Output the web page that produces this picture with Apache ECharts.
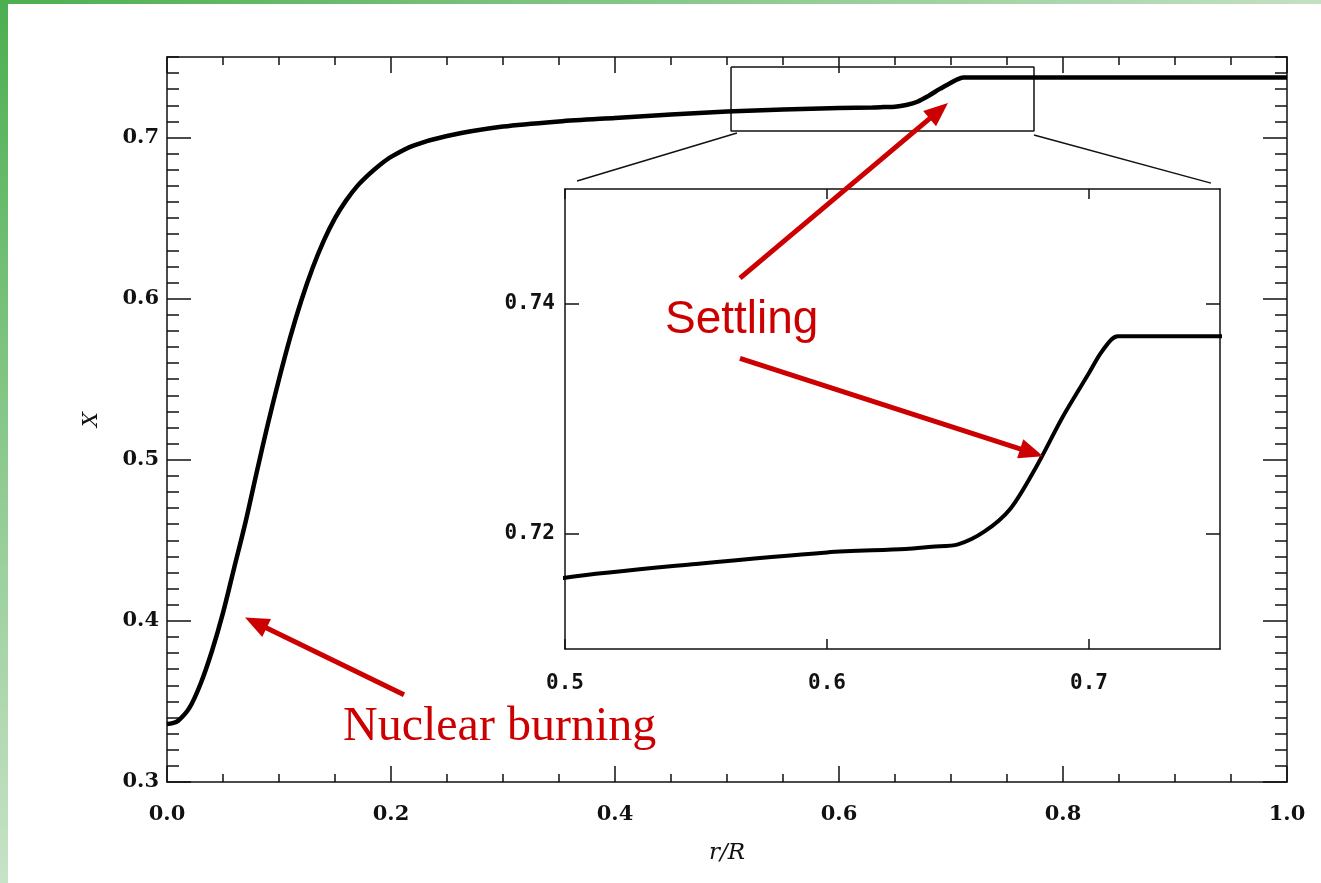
<!DOCTYPE html>
<html>
<head>
<meta charset="utf-8">
<script src="https://cdn.jsdelivr.net/npm/echarts@6/dist/echarts.min.js"></script>
<style>
  html, body { margin: 0; padding: 0; background: #fff; }
  #chart { width: 1321px; height: 883px; }
</style>
</head>
<body>
<div id="chart"></div>
<script>
// hydrogen abundance X against fractional radius r/R
const radius = [0, 0.005, 0.01, 0.02, 0.03, 0.04, 0.05, 0.06, 0.07, 0.08, 0.09, 0.10, 0.11, 0.12, 0.13, 0.14, 0.15, 0.16, 0.17, 0.18, 0.19, 0.20, 0.22, 0.25, 0.30, 0.35, 0.40, 0.45, 0.50, 0.55, 0.60, 0.63, 0.64, 0.65, 0.66, 0.67, 0.68, 0.69, 0.70, 0.705, 0.711, 0.75, 0.80, 0.90, 1.00]
const hydrogen = [0.336, 0.3365, 0.338, 0.346, 0.361, 0.381, 0.405, 0.433, 0.461, 0.492, 0.522, 0.550, 0.576, 0.599, 0.619, 0.636, 0.650, 0.661, 0.670, 0.677, 0.683, 0.688, 0.695, 0.701, 0.7068, 0.7100, 0.7122, 0.7143, 0.7162, 0.7174, 0.7184, 0.7187, 0.7189, 0.7191, 0.7202, 0.7222, 0.7259, 0.7302, 0.7340, 0.7359, 0.7372, 0.7372, 0.7372, 0.7372, 0.7372]

const mainYLabels = [0.3, 0.4, 0.5, 0.6, 0.7]
const insetXLabels = [0.5, 0.6, 0.7]
const insetYLabels = [0.72, 0.74]

// zoom box and its connector lines, in main-plot data units
const zoomBox = [[0.5036, 0.7438], [0.7741, 0.7438], [0.7741, 0.704], [0.5036, 0.704], [0.5036, 0.7438]]
const connectorLeft = [[0.5089, 0.7028], [0.3661, 0.673]]
const connectorRight = [[0.7741, 0.7016], [0.9321, 0.6717]]

// red annotation arrows [from, to], main-plot data units
const arrows = [
  [[0.5116, 0.6127], [0.6891, 0.7166]],
  [[0.5116, 0.563], [0.772, 0.5045]],
  [[0.2116, 0.3541], [0.0793, 0.3989]],
]

const curve = radius.map((r, i) => [r, hydrogen[i]])
const ink = '#111'
const labelFont = { fontFamily: 'DejaVu Serif', fontSize: 21, fontWeight: 'bold', color: '#111' }
const insetFont = { fontFamily: 'DejaVu Sans Mono', fontSize: 21, fontWeight: 'bold', color: '#111' }

const axisLine = { show: true, onZero: false, lineStyle: { color: ink, width: 1.5 } }
const noLine = { show: false, onZero: false }

function mainX(pos, showLabel) {
  return {
    type: 'value', gridIndex: 0, position: pos, min: 0, max: 1, interval: 0.2,
    axisLine, splitLine: { show: false },
    axisTick: { inside: true, length: 16, lineStyle: { color: ink, width: 1.5 } },
    minorTick: { show: true, splitNumber: 4, length: 8, lineStyle: { color: ink, width: 1.5 } },
    axisLabel: showLabel
      ? { ...labelFont, margin: 22, formatter: (v) => v.toFixed(1) }
      : { show: false },
    name: showLabel ? 'r/R' : '',
    nameLocation: 'middle', nameGap: 60,
    nameTextStyle: { fontFamily: 'DejaVu Serif', fontStyle: 'italic', fontSize: 23, color: '#111' },
  }
}

function mainYMinor(pos) {
  return {
    type: 'value', gridIndex: 0, position: pos, min: 0.3, max: 0.75, interval: 0.01,
    axisLine, splitLine: { show: false },
    axisTick: { inside: true, length: 12, lineStyle: { color: ink, width: 1.5 } },
    axisLabel: { show: false },
    name: pos === 'left' ? 'X' : '',
    nameLocation: 'middle', nameGap: 65, nameRotate: 90,
    nameTextStyle: { fontFamily: 'DejaVu Serif', fontStyle: 'italic', fontSize: 21, color: '#111' },
  }
}

function mainYMajor(pos, showLabel) {
  return {
    type: 'value', gridIndex: 0, position: pos, min: 0.3, max: 0.75,
    axisLine: noLine, splitLine: { show: false },
    axisTick: { inside: true, length: 24, customValues: mainYLabels, lineStyle: { color: ink, width: 1.5 } },
    axisLabel: showLabel
      ? { ...labelFont, margin: 8, customValues: mainYLabels, formatter: (v) => v.toFixed(1) }
      : { show: false },
  }
}

function insetX(pos, showLabel) {
  return {
    type: 'value', gridIndex: 1, position: pos, min: 0.5, max: 0.75,
    axisLine, splitLine: { show: false },
    axisTick: { inside: true, length: 10, customValues: insetXLabels, lineStyle: { color: ink, width: 1.5 } },
    axisLabel: showLabel
      ? { ...insetFont, margin: 24, customValues: insetXLabels, formatter: (v) => v.toFixed(1) }
      : { show: false },
  }
}

function insetY(pos, showLabel) {
  return {
    type: 'value', gridIndex: 1, position: pos, min: 0.71, max: 0.75,
    axisLine, splitLine: { show: false },
    axisTick: { inside: true, length: 14, customValues: insetYLabels, lineStyle: { color: ink, width: 1.5 } },
    axisLabel: showLabel
      ? { ...insetFont, margin: 10, customValues: insetYLabels, formatter: (v) => v.toFixed(2) }
      : { show: false },
  }
}

const thinLine = (data) => ({
  type: 'line', xAxisIndex: 0, yAxisIndex: 0, data,
  symbol: 'none', silent: true, z: 1,
  lineStyle: { color: ink, width: 1.5 },
})

const chart = echarts.init(document.getElementById('chart'))
chart.setOption({
  animation: false,
  backgroundColor: '#fff',
  grid: [
    { left: 167, top: 57, width: 1120, height: 725 },
    { left: 565, top: 189, width: 655, height: 460 },
  ],
  xAxis: [mainX('bottom', true), mainX('top', false), insetX('bottom', true), insetX('top', false)],
  yAxis: [
    mainYMinor('left'), mainYMajor('left', true),
    mainYMinor('right'), mainYMajor('right', false),
    insetY('left', true), insetY('right', false),
  ],
  series: [
    thinLine(zoomBox),
    thinLine(connectorLeft),
    thinLine(connectorRight),
    {
      type: 'line', xAxisIndex: 0, yAxisIndex: 0, data: curve,
      symbol: 'none', smooth: 0.3, z: 3,
      lineStyle: { color: '#000', width: 4.5 },
      markLine: {
        silent: true,
        symbol: ['none', 'triangle'],
        symbolSize: [20, 24],
        label: { show: false },
        emphasis: { disabled: true },
        lineStyle: { color: '#cc0000', width: 5, type: 'solid' },
        data: arrows.map((a) => [{ coord: a[0] }, { coord: a[1] }]),
      },
    },
    {
      type: 'line', xAxisIndex: 2, yAxisIndex: 4, data: curve,
      symbol: 'none', smooth: 0.3, clip: true, z: 3,
      lineStyle: { color: '#000', width: 4 },
    },
  ],
  graphic: [
    {
      type: 'rect', shape: { x: 0, y: 0, width: 1321, height: 4 }, silent: true,
      style: {
        fill: new echarts.graphic.LinearGradient(0, 0, 1, 0, [
          { offset: 0, color: '#4caf50' },
          { offset: 1, color: '#c3e0c3' },
        ]),
      },
    },
    {
      type: 'rect', shape: { x: 0, y: 0, width: 8, height: 883 }, silent: true,
      style: {
        fill: new echarts.graphic.LinearGradient(0, 0, 0, 1, [
          { offset: 0, color: '#4caf50' },
          { offset: 1, color: '#c8e2c8' },
        ]),
      },
    },
    {
      type: 'text', left: 665, top: 297, silent: true,
      style: { text: 'Settling', font: '46px "Liberation Sans"', fill: '#cc0000' },
    },
    {
      type: 'text', left: 343, top: 703, silent: true,
      style: { text: 'Nuclear burning', font: '48px "Liberation Serif"', fill: '#cc0000' },
    },
  ],
})
</script>
</body>
</html>
